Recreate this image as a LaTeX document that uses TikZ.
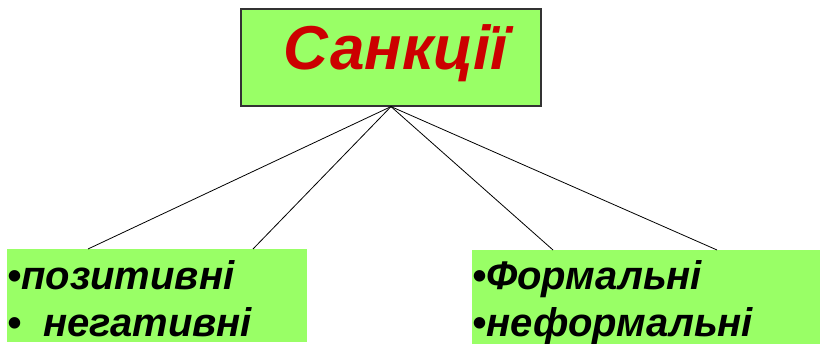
\documentclass[tikz,border=0pt]{standalone}
\usepackage{fontspec}
\setmainfont{Liberation Sans}
\usetikzlibrary{positioning}
\definecolor{boxgreen}{HTML}{99FF66}
\definecolor{titlered}{HTML}{CC0000}
\tikzset{
	titlebox/.style={draw=black!80, line width=1.2pt, fill=boxgreen, minimum width=300pt, minimum height=97pt, inner sep=0pt},
	listbox/.style={fill=boxgreen, anchor=north west, inner sep=0pt},
	item/.style={anchor=base west, inner sep=0pt, font=\fontsize{40}{46}\selectfont\bfseries\itshape},
	link/.style={black, line width=0.8pt}
}
\begin{document}
\begin{tikzpicture}[x=1pt, y=-1pt]
		\useasboundingbox (0,0) rectangle (820,344);
		\node[titlebox] (top) at (391,57.5) {};
		\node[anchor=base, inner sep=0pt, text=titlered, font=\fontsize{62}{70}\selectfont\bfseries\itshape] (title) at (396,70) {Санкції};
		\node[listbox, minimum width=300pt, minimum height=93pt] (left) at (7,249) {};
		\node[listbox, minimum width=348pt, minimum height=94pt] (right) at (472,250) {};
		% list items
		\node[item] (pos) at (7,290) {•позитивні};
		\node[item] (neg) at (7,337) {•\hspace{22pt}негативні};
		\node[item] (form) at (472,290) {•Формальні};
		\node[item] (nonform) at (472,337) {•неформальні};
		% line ends on top of the lower boxes
		\coordinate (l1) at (88,249);
		\coordinate (l2) at (253,249);
		\coordinate (r1) at (553,250);
		\coordinate (r2) at (717,250);
		\foreach \e in {l1,l2,r1,r2}
			\draw[link] (top.south) -- (\e);
		\end{tikzpicture}
\end{document}
